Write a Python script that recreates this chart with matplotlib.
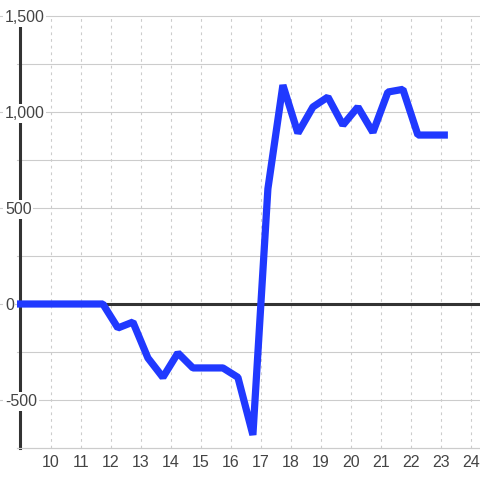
import matplotlib
matplotlib.use("Agg")
import matplotlib.pyplot as plt
from matplotlib.transforms import blended_transform_factory

# data (x = day, values every half day)
days = [8.73, 9.23, 9.73, 10.23, 10.73, 11.23, 11.73,
        12.23, 12.73, 13.23, 13.73, 14.23, 14.73, 15.23, 15.73,
        16.23, 16.73, 17.23, 17.73, 18.23, 18.73, 19.23, 19.73,
        20.23, 20.73, 21.23, 21.73, 22.23, 22.73, 23.23]
values = [0, 0, 0, 0, 0, 0, 0,
          -125, -94, -281, -382, -255, -333, -333, -333,
          -382, -682, 600, 1140, 890, 1026, 1078, 932,
          1026, 894, 1104, 1118, 880, 880, 880]
x_ticks = list(range(10, 25))
y_ticks = [-500, 0, 500, 1000, 1500]
y_grid = [-750, -500, -250, 250, 500, 750, 1000, 1250, 1500]

plt.rcParams['font.family'] = ['Liberation Sans', 'DejaVu Sans']
text_color = '#444444'
grid_color = '#cccccc'

W = H = 480
fig = plt.figure(figsize=(4.8, 4.8), dpi=100)
fig.patch.set_facecolor('white')
ax = fig.add_axes([17 / W, 32 / H, (W - 17) / W, (448 - 16) / H])
ax.set_xlim(10 + (17 - 51) / 30, 10 + (480 - 51) / 30)
ax.set_ylim(-750, 1500)

# grid
for g in y_grid:
    ax.axhline(g, color=grid_color, lw=0.8, zorder=1, clip_on=False)
for t in x_ticks:
    ax.axvline(t, color=grid_color, lw=0.8, ls=(0, (2.5, 3.5)), zorder=1)
ax.axhline(0, color='#333333', lw=2.2, zorder=2)

ax.plot(days, values, color='#2039ff', lw=5.2,
        solid_joinstyle='bevel', solid_capstyle='butt', zorder=3)

# spines
for s in ['top', 'right']:
    ax.spines[s].set_visible(False)
ax.spines['bottom'].set_color(grid_color)
ax.spines['bottom'].set_linewidth(0.8)
ax.spines['left'].set_position(('axes', 3 / (W - 17)))
ax.spines['left'].set_color('#333333')
ax.spines['left'].set_linewidth(2.2)
ax.spines['left'].set_bounds(-750, 1500 - 8 * 500 / 96)

ax.set_xticks(x_ticks)
ax.set_xticklabels([str(t) for t in x_ticks])
ax.tick_params(axis='x', length=0, pad=5, labelsize=11.5, labelcolor=text_color)

ax.set_yticks(y_ticks)
ax.set_yticklabels([])
ax.tick_params(axis='y', direction='out', length=15, width=0.8, color=grid_color)

trans = blended_transform_factory(fig.transFigure, ax.transData)
for v in y_ticks:
    ax.text(5 / W, v, f"{v:,}", transform=trans, ha='left', va='center_baseline',
            fontsize=11.5, color=text_color, zorder=5, clip_on=False,
            bbox=dict(boxstyle='square,pad=0.1', fc='white', ec='none'))

fig.savefig('out.png', dpi=100)
